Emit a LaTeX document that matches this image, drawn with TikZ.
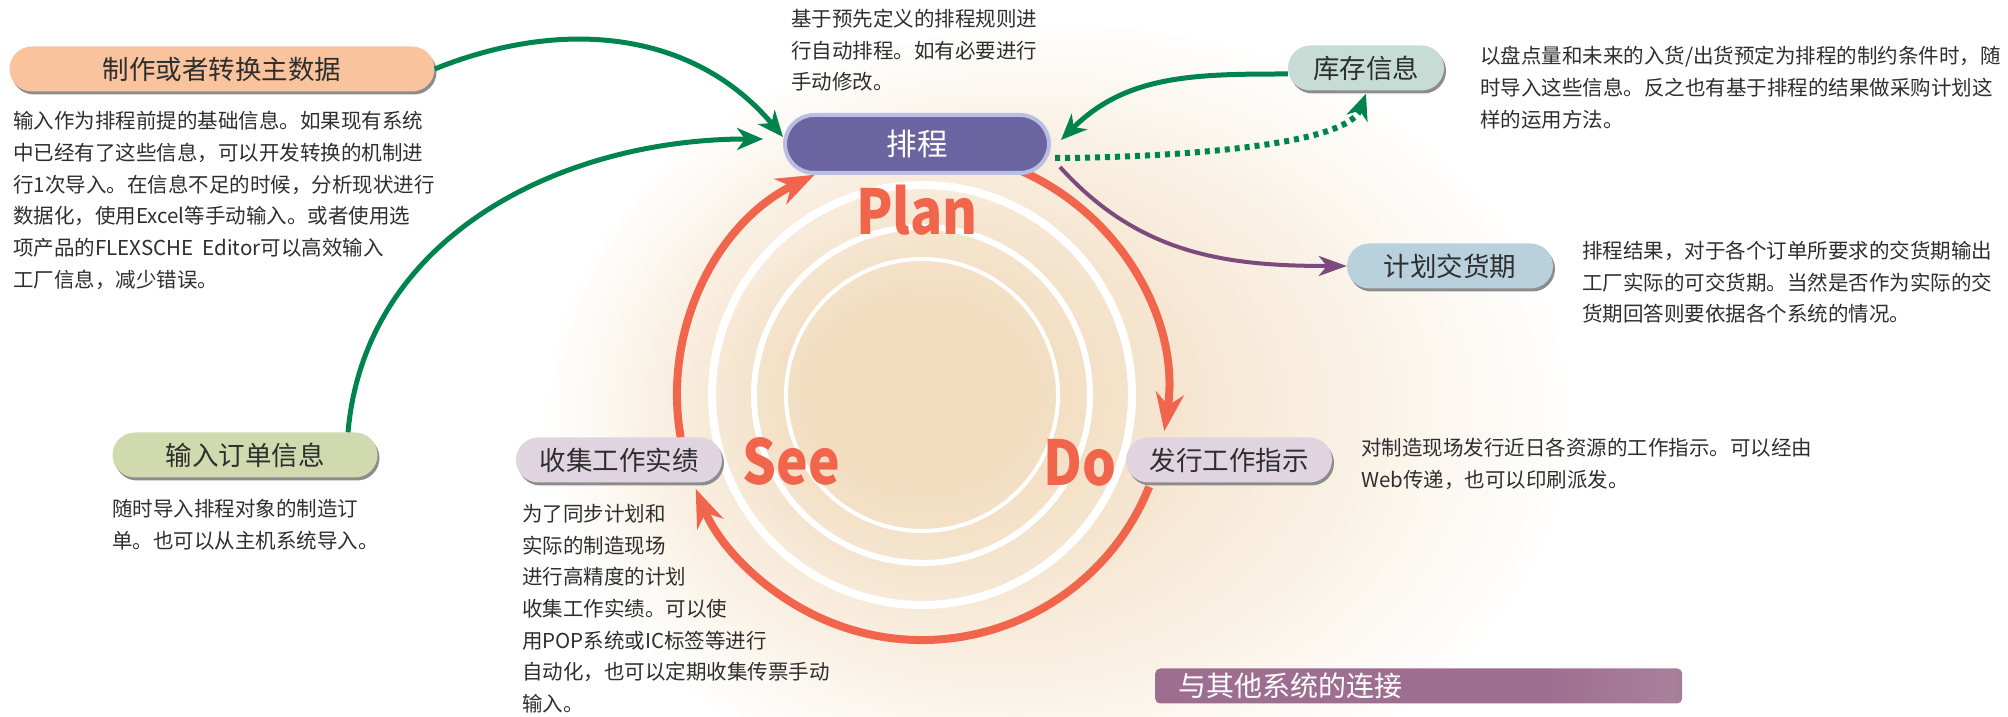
\documentclass[tikz,border=0pt]{standalone}
\usepackage{fontspec}
\setmainfont{Noto Sans CJK SC}
\newfontfamily\cycfont{Noto Sans CJK SC}[FakeStretch=0.86]
\usetikzlibrary{arrows.meta,shapes.misc,shadows,calc}

\definecolor{txt}{HTML}{2E2E2E}
\definecolor{leaf}{HTML}{00844F}
\definecolor{plum}{HTML}{7C4A7C}
\definecolor{coral}{HTML}{F0654B}
\definecolor{glowc}{HTML}{F2DDC0}
\definecolor{peach}{HTML}{F9C39E}
\definecolor{olive}{HTML}{D1D9AE}
\definecolor{lilac}{HTML}{E0D4E0}
\definecolor{mint}{HTML}{C6DCD4}
\definecolor{sky}{HTML}{B9D1DD}
\definecolor{violet}{HTML}{6A64A0}
\definecolor{lavender}{HTML}{B9BEE3}
\definecolor{shadowc}{HTML}{8C8C8C}
\definecolor{bandA}{HTML}{7D4977}
\definecolor{bandB}{HTML}{9E6E90}
\definecolor{bandC}{HTML}{A8809A}
\definecolor{bandD}{HTML}{824C76}

\pgfdeclarehorizontalshading{bannershade}{100bp}{color(0bp)=(bandA); color(10bp)=(bandA); color(22bp)=(bandB); color(62bp)=(bandB); color(74bp)=(bandC); color(86bp)=(bandD); color(100bp)=(bandD)}

\begin{document}
\begin{tikzpicture}[x=1pt,y=1pt,
    box/.style={rounded rectangle, minimum height=45pt, inner sep=0pt, text=txt,
      font=\fontsize{26.5}{30}\selectfont,
      general shadow={fill=shadowc, shadow xshift=2pt, shadow yshift=-3pt}},
    desc/.style={anchor=north west, align=left, inner sep=0pt, text=txt,
      font=\fontsize{20.5}{31.7}\selectfont},
    feed/.style={leaf, line width=5pt, -{Stealth[length=26pt,width=22pt,inset=8pt]}},
    cyc/.style={coral, line width=8pt, -{Stealth[length=38pt,width=28pt,inset=12pt]}},
    word/.style={text=coral, inner sep=0pt, font=\cycfont\fontsize{62}{62}\selectfont\bfseries}]

  \useasboundingbox (0,0) rectangle (2008,717);
  \foreach \k [evaluate=\k as \pct using 2.5*\k,
               evaluate=\k as \cx using 1062-3.5*\k,
               evaluate=\k as \cy using 299+0.575*\k,
               evaluate=\k as \rx using 520-10*\k,
               evaluate=\k as \ry using 400-7.5*\k] in {1,...,40}
    \fill[glowc!\pct!white] (\cx,\cy) ellipse [x radius=\rx, y radius=\ry];

  \coordinate (hub) at (922,322);
  \draw[white, line width=8pt] (hub) circle [radius=210];
  \draw[white, line width=6pt] (hub) circle [radius=168];
  \draw[white, line width=4pt] (hub) circle [radius=136];

  \coordinate (planout) at ($(hub)+(67:245)$);
  \coordinate (doout) at ($(hub)+(-22:245)$);
  \coordinate (seeout) at ($(hub)+(190:245)$);
  \draw[cyc] (planout) arc [start angle=67, end angle=-8.5, radius=245];
  \draw[cyc] (doout) arc [start angle=-22, end angle=-157.5, radius=245];
  \draw[cyc] (seeout) arc [start angle=190, end angle=116, radius=245];

  \node[word] (plan) at (917,507) {Plan};
  \node[word] (see) at (791,256) {See};
  \node[word] (do) at (1080,254) {Do};

  \node[rounded rectangle, fill=violet, draw=lavender, line width=4pt,
    minimum width=264pt, minimum height=58pt, inner sep=0pt, text=white,
    font=\fontsize{30.5}{32}\selectfont] (sched) at (917,573) {排程};
  \node[box, fill=peach, minimum width=425pt] (master) at (222,648) {制作或者转换主数据};
  \node[box, fill=olive, minimum width=265pt] (order) at (245,262) {输入订单信息};
  \node[box, fill=lilac, minimum width=206pt] (collect) at (619,257) {收集工作实绩};
  \node[box, fill=lilac, minimum width=206pt] (issue) at (1229,257) {发行工作指示};
  \node[box, fill=mint, minimum width=156pt] (stock) at (1366,649) {库存信息};
  \node[box, fill=sky, minimum width=206pt] (due) at (1450,451) {计划交货期};

  \draw[feed] (master.east) to[out=22, in=130] ([yshift=7pt]sched.west);
  \draw[feed] ([xshift=103pt]order.north) to[out=85, in=180] ([xshift=-20pt,yshift=5pt]sched.west);
  \draw[feed] ([yshift=-6pt]stock.west) to[out=180, in=45] ([xshift=10pt,yshift=4pt]sched.east);
  \draw[feed, line width=6pt, dash pattern=on 5pt off 5pt] ([xshift=4pt,yshift=-14pt]sched.east)
    to[out=0, in=250, looseness=0.5] ([yshift=-3pt]stock.south);
  \draw[plum, line width=4pt, -{Stealth[length=28pt,width=20pt,inset=8pt]}]
    ([xshift=9pt,yshift=-23pt]sched.east) to[out=-48, in=180] (due.west);

  \node[desc] (schednote) at (791,708) {基于预先定义的排程规则进\\行自动排程。如有必要进行\\手动修改。};
  \node[desc] (masternote) at (13,606) {输入作为排程前提的基础信息。如果现有系统\\中已经有了这些信息，可以开发转换的机制进\\行1次导入。在信息不足的时候，分析现状进行\\数据化，使用Excel等手动输入。或者使用选\\项产品的FLEXSCHE\ \ Editor可以高效输入\\工厂信息，减少错误。};
  \node[desc] (stocknote) at (1480,671) {以盘点量和未来的入货/出货预定为排程的制约条件时，随\\时导入这些信息。反之也有基于排程的结果做采购计划这\\样的运用方法。};
  \node[desc] (duenote) at (1582,476) {排程结果，对于各个订单所要求的交货期输出\\工厂实际的可交货期。当然是否作为实际的交\\货期回答则要依据各个系统的情况。};
  \node[desc] (issuenote) at (1361,279) {对制造现场发行近日各资源的工作指示。可以经由\\Web传递，也可以印刷派发。};
  \node[desc] (collectnote) at (522,213) {为了同步计划和\\实际的制造现场\\进行高精度的计划\\收集工作实绩。可以使\\用POP系统或IC标签等进行\\自动化，也可以定期收集传票手动\\输入。};
  \node[desc] (ordernote) at (112,218) {随时导入排程对象的制造订\\单。也可以从主机系统导入。};

  \node[anchor=west, shading=bannershade, rounded corners=5pt, minimum height=35pt,
    text width=481pt, inner xsep=23pt, inner ysep=0pt, align=left, text=white,
    font=\fontsize{28}{30}\selectfont] (links) at (1155,31) {与其他系统的连接};
\end{tikzpicture}
\end{document}
